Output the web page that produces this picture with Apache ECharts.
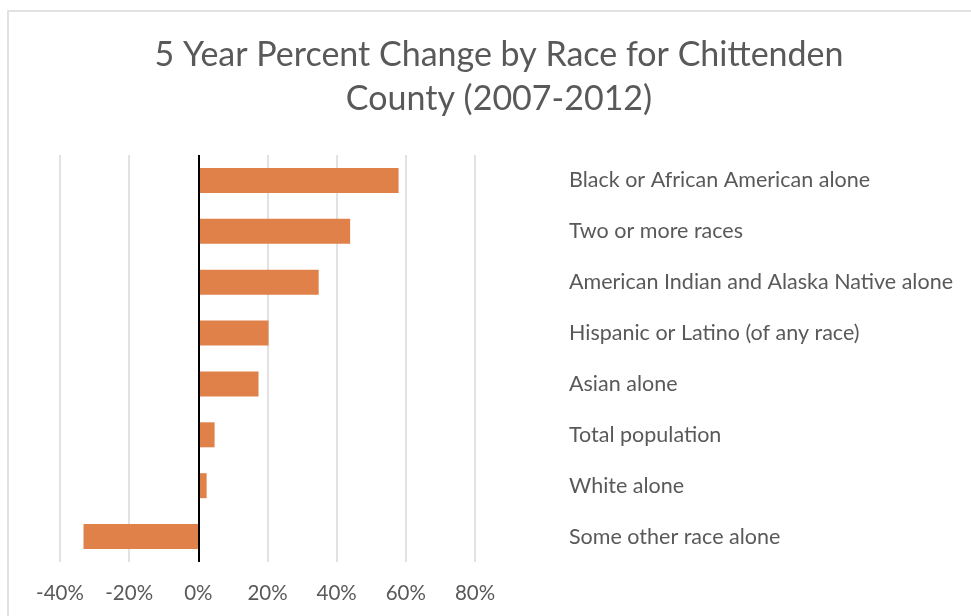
<!DOCTYPE html>
<html>
<head>
<meta charset="utf-8">
<script src="https://cdn.jsdelivr.net/npm/echarts@6/dist/echarts.min.js"></script>
<style>
  html, body { margin: 0; padding: 0; background: #fff; }
  #chart { width: 971px; height: 616px; }
</style>
</head>
<body>
<div id="chart"></div>
<script>
// Race groups, listed top to bottom
const categories = [
  'Black or African American alone',
  'Two or more races',
  'American Indian and Alaska Native alone',
  'Hispanic or Latino (of any race)',
  'Asian alone',
  'Total population',
  'White alone',
  'Some other race alone'
];
// Percent change 2007-2012
const percentChange = [57.9, 43.9, 34.8, 20.3, 17.4, 4.7, 2.4, -33.2];
// Value axis range (percent)
const axisMin = -40;
const axisMax = 80;
const axisStep = 20;

const FONT = 'Lato';
const TEXT = '#595959';

const chart = echarts.init(document.getElementById('chart'), null, { renderer: 'canvas' });
chart.setOption({
  animation: false,
  backgroundColor: '#ffffff',
  title: {
    text: '5 Year Percent Change by Race for Chittenden\nCounty (2007-2012)',
    left: 494,
    top: 28,
    textAlign: 'center',
    textStyle: {
      fontFamily: FONT,
      fontWeight: 'normal',
      fontSize: 34,
      lineHeight: 44,
      color: TEXT
    }
  },
  graphic: [{
    type: 'rect',
    shape: { x: 8, y: 11, width: 1000, height: 700 },
    style: { fill: 'none', stroke: '#d9d9d9', lineWidth: 1.5 },
    silent: true,
    z: -1
  }],
  grid: { left: 60, right: 496, top: 155, bottom: 54, containLabel: false },
  xAxis: {
    type: 'value',
    min: axisMin,
    max: axisMax,
    interval: axisStep,
    axisLine: { show: false },
    axisTick: { show: false },
    splitLine: { lineStyle: { color: '#d9d9d9', width: 1.5 } },
    axisLabel: {
      margin: 21,
      fontFamily: FONT,
      fontSize: 20.5,
      color: TEXT,
      formatter: v => v + '%'
    }
  },
  yAxis: {
    type: 'category',
    data: categories,
    inverse: true,
    position: 'right',
    axisLine: { show: false },
    axisTick: { show: false },
    splitLine: { show: false },
    axisLabel: {
      margin: 94,
      align: 'left',
      fontFamily: FONT,
      fontSize: 21.5,
      color: TEXT
    }
  },
  series: [{
    type: 'bar',
    data: percentChange,
    barWidth: 25,
    itemStyle: { color: '#df8149' },
    markLine: {
      silent: true,
      symbol: 'none',
      label: { show: false },
      lineStyle: { color: '#000000', width: 2, type: 'solid' },
      data: [{ xAxis: 0 }]
    }
  }]
});
</script>
</body>
</html>
